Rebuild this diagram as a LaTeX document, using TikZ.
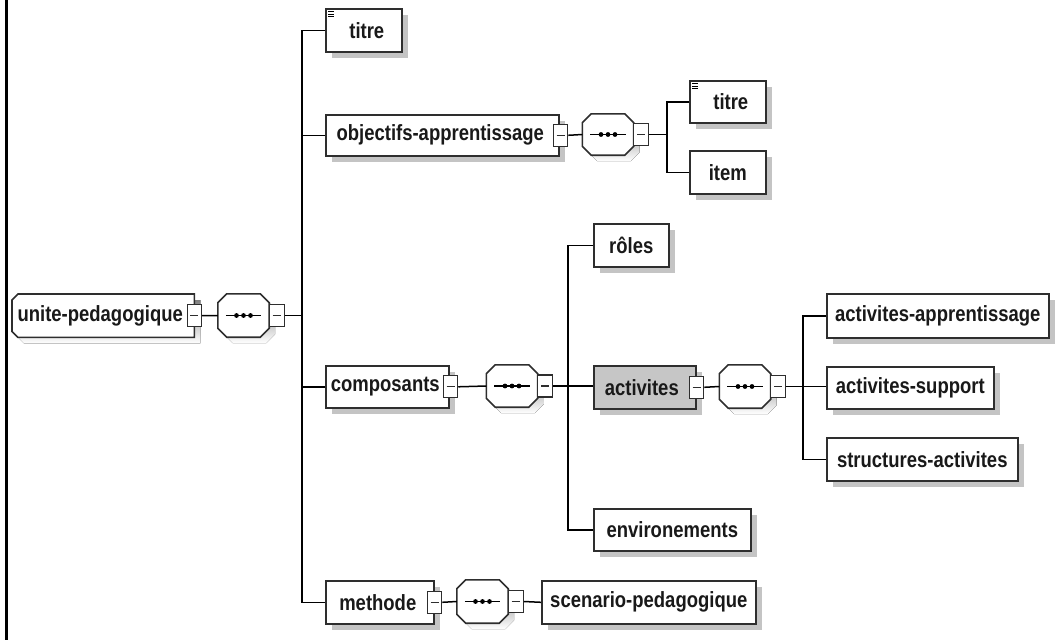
\documentclass[tikz,border=0pt]{standalone}
\usepackage{fontspec}
\setmainfont{Liberation Sans}[FakeStretch=0.84]
\usetikzlibrary{calc,shadows,backgrounds}

\definecolor{edge}{HTML}{2E2E2E}
\definecolor{shade}{HTML}{C4C4C4}
\definecolor{selfill}{HTML}{C6C6C6}

\tikzset{
  lbl/.style={font=\bfseries\fontsize{22}{24}\selectfont, text=black!90},
  elem/.style={lbl, draw=edge, line width=1.6pt, fill=white, inner sep=0pt,
    anchor=north west,
    drop shadow={shadow xshift=6pt, shadow yshift=-6pt, fill=shade, opacity=1}},
  minus/.style={draw=edge, line width=1.3pt, fill=white, inner sep=0pt,
    minimum width=14pt, minimum height=22pt,
    path picture={\draw[line width=1.1pt]
      ([xshift=-4pt]path picture bounding box.center) --
      ([xshift=4pt]path picture bounding box.center);}},
  seqarea/.style={draw=none, inner sep=0pt, minimum width=51pt},
  octline/.style={draw=edge, line width=1.6pt, fill=white},
  link/.style={draw=black, line width=1.5pt},
}

% sequence compositor: chamfered frame with the three-dot bar
\newcommand\octo[1]{%
  \fill[shade] ($(#1.north west)+(15,6)$) -- ($(#1.north east)+(-3,6)$)
    -- ($(#1.north east)+(6,15)$) -- ($(#1.south east)+(6,-3)$)
    -- ($(#1.south east)+(-3,6)$) -- ($(#1.south west)+(15,6)$)
    -- ($(#1.south west)+(6,-3)$) -- ($(#1.north west)+(6,15)$) -- cycle;
  \draw[octline] ($(#1.north west)+(9,0)$) -- ($(#1.north east)+(-9,0)$)
    -- ($(#1.north east)+(0,9)$) -- ($(#1.south east)+(0,-9)$)
    -- ($(#1.south east)+(-9,0)$) -- ($(#1.south west)+(9,0)$)
    -- ($(#1.south west)+(0,-9)$) -- ($(#1.north west)+(0,9)$) -- cycle;
  \draw[line width=1.4pt] ($(#1.west)+(8,0)$) -- ($(#1.east)+(-8,0)$);
  \foreach \d in {-7,0,7} \fill ($(#1.center)+(\d,0)$) circle (2.4);
}

% small "text content" mark in the upper left corner of an element
\newcommand\textmark[1]{%
  \foreach \k in {0,2.6,5.2}
    \draw[line width=1.1pt] ($(#1.north west)+(3,3.5+\k)$) -- ++(6,0);
}

\begin{document}
\begin{tikzpicture}[x=1pt,y=-1pt]
\useasboundingbox (0,0) rectangle (1055,640);
\fill[black] (5,0) rectangle (8,640);

% root element
\node[lbl, inner sep=0pt, minimum width=182pt, minimum height=43pt, anchor=north west]
  (root) at (12,294) {\hspace*{-6pt}unite-pedagogique};
\begin{scope}[on background layer]
  \fill[white] (8,0) rectangle (1055,640);
  \fill[shade] ($(root.north west)+(12,6)$) -- ($(root.north east)+(6,6)$)
    -- ($(root.south east)+(6,6)$) -- ($(root.south west)+(12,6)$)
    -- ($(root.south west)+(6,0)$) -- ($(root.north west)+(6,12)$) -- cycle;
  \draw[octline] ($(root.north west)+(6,0)$) -- (root.north east)
    -- (root.south east) -- ($(root.south west)+(6,0)$)
    -- ($(root.south west)+(0,-6)$) -- ($(root.north west)+(0,6)$) -- cycle;
\end{scope}
\node[minus] (rootm) at (root.east) {};
\node[seqarea, minimum height=43pt] (rootseq) at (243.5,315.5) {};
\octo{rootseq}
\node[minus, minimum width=15pt] (rootseqm) at ($(rootseq.east)+(7.5,0)$) {};
\coordinate (trunk) at (302,315.5);

% first level
\node[elem, minimum width=76pt, minimum height=43pt] (titreA) at (325,8) {\hspace*{6pt}titre};
\textmark{titreA}
\node[elem, minimum width=233pt, minimum height=41pt] (objectifs) at (325,114) {objectifs-apprentissage\hspace*{4pt}};
\node[elem, minimum width=123pt, minimum height=42pt] (composants) at (325,365) {composants\hspace*{4pt}};
\node[elem, minimum width=108pt, minimum height=43pt] (methode) at (325,580) {methode\hspace*{4pt}};

% objectifs-apprentissage
\node[minus] (objm) at ($(objectifs.east)+(1,0)$) {};
\node[seqarea, minimum height=41pt] (objseq) at (608,134.5) {};
\octo{objseq}
\node[minus, minimum width=15pt] (objseqm) at ($(objseq.east)+(7.5,0)$) {};
\coordinate (objjoin) at (667,134.5);
\node[elem, minimum width=76pt, minimum height=42pt] (titreB) at (689,80) {\hspace*{6pt}titre};
\textmark{titreB}
\node[elem, minimum width=76pt, minimum height=43pt] (item) at (689,150) {item};

% composants
\node[minus] (compm) at ($(composants.east)+(1,0)$) {};
\node[seqarea, minimum height=42pt] (compseq) at (512,386) {};
\octo{compseq}
\node[minus, minimum width=15pt] (compseqm) at ($(compseq.east)+(7.5,0)$) {};
\node[elem, minimum width=75pt, minimum height=43pt] (roles) at (593,223) {rôles};
\node[elem, fill=selfill, minimum width=102pt, minimum height=43pt] (activites) at (593,365) {activites\hspace*{6pt}};
\node[elem, minimum width=157pt, minimum height=42pt] (environ) at (593,508) {environements};

% activites
\node[minus] (actm) at (activites.east) {};
\node[seqarea, minimum height=43pt] (actseq) at (745,386.5) {};
\octo{actseq}
\node[minus, minimum width=15pt] (actseqm) at ($(actseq.east)+(7.5,0)$) {};
\node[elem, minimum width=222pt, minimum height=44pt] (actapp) at (826,293) {activites-apprentissage};
\node[elem, minimum width=167pt, minimum height=42pt] (actsup) at (826,366) {activites-support};
\node[elem, minimum width=191pt, minimum height=43pt] (structs) at (826,437) {structures-activites};

% methode
\node[minus] (methm) at (methode.east) {};
\node[seqarea, minimum height=43pt] (methseq) at (482.5,601.5) {};
\octo{methseq}
\node[minus, minimum width=15pt] (methseqm) at ($(methseq.east)+(7.5,0)$) {};
\node[elem, minimum width=214pt, minimum height=43pt] (scenario) at (541,580) {scenario-pedagogique};

% connectors
\draw[link] (rootm.east) -- (rootseq.west);
\draw[link] (rootseqm.east) -- (trunk);
\draw[link] (titreA.west) -- ++(-23,0) |- (methode.west);
\draw[link] (objectifs.west) -- ++(-23,0);
\draw[link] (composants.west) -- ++(-23,0);

\draw[link] (objm.east) -- (objseq.west);
\draw[link] (objseqm.east) -- (objjoin);
\draw[link] (titreB.west) -- ++(-22,0) |- (item.west);

\draw[link] (compm.east) -- (compseq.west);
\draw[link] (compseqm.east) -- (compseqm.east -| activites.west);
\draw[link] (roles.west) -- ++(-25,0) |- (environ.west);

\draw[link] (actm.east) -- (actseq.west);
\draw[link] (actseqm.east) -- (actseqm.east -| actsup.west);
\draw[link] (actapp.west) -- ++(-23,0) |- (structs.west);

\draw[link] (methm.east) -- (methseq.west);
\draw[link] (methseqm.east) -- (scenario.west);
\end{tikzpicture}
\end{document}
